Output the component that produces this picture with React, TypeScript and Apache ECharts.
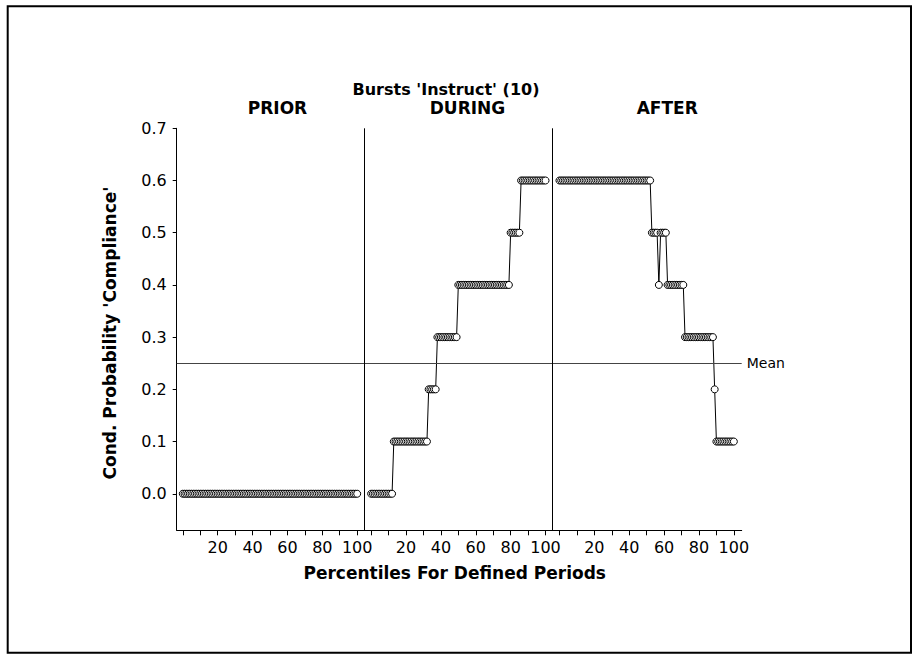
import { useEffect, useRef } from "react";
import * as echarts from "echarts";

const TITLE = "Bursts 'Instruct' (10)";
const PERIODS = ["PRIOR", "DURING", "AFTER"];
const Y_TITLE = "Cond. Probability 'Compliance'";
const X_TITLE = "Percentiles For Defined Periods";
const MEAN_LABEL = "Mean";

// conditional probability by percentile (0..100) in each period
const PRIOR_VALUES = [
  0, 0, 0, 0, 0, 0, 0, 0, 0, 0,
  0, 0, 0, 0, 0, 0, 0, 0, 0, 0,
  0, 0, 0, 0, 0, 0, 0, 0, 0, 0,
  0, 0, 0, 0, 0, 0, 0, 0, 0, 0,
  0, 0, 0, 0, 0, 0, 0, 0, 0, 0,
  0, 0, 0, 0, 0, 0, 0, 0, 0, 0,
  0, 0, 0, 0, 0, 0, 0, 0, 0, 0,
  0, 0, 0, 0, 0, 0, 0, 0, 0, 0,
  0, 0, 0, 0, 0, 0, 0, 0, 0, 0,
  0, 0, 0, 0, 0, 0, 0, 0, 0, 0,
  0,
];

const DURING_VALUES = [
  0, 0, 0, 0, 0, 0, 0, 0, 0, 0,
  0, 0, 0, 0.1, 0.1, 0.1, 0.1, 0.1, 0.1, 0.1,
  0.1, 0.1, 0.1, 0.1, 0.1, 0.1, 0.1, 0.1, 0.1, 0.1,
  0.1, 0.1, 0.1, 0.2, 0.2, 0.2, 0.2, 0.2, 0.3, 0.3,
  0.3, 0.3, 0.3, 0.3, 0.3, 0.3, 0.3, 0.3, 0.3, 0.3,
  0.4, 0.4, 0.4, 0.4, 0.4, 0.4, 0.4, 0.4, 0.4, 0.4,
  0.4, 0.4, 0.4, 0.4, 0.4, 0.4, 0.4, 0.4, 0.4, 0.4,
  0.4, 0.4, 0.4, 0.4, 0.4, 0.4, 0.4, 0.4, 0.4, 0.4,
  0.5, 0.5, 0.5, 0.5, 0.5, 0.5, 0.6, 0.6, 0.6, 0.6,
  0.6, 0.6, 0.6, 0.6, 0.6, 0.6, 0.6, 0.6, 0.6, 0.6,
  0.6,
];

const AFTER_VALUES = [
  0.6, 0.6, 0.6, 0.6, 0.6, 0.6, 0.6, 0.6, 0.6, 0.6,
  0.6, 0.6, 0.6, 0.6, 0.6, 0.6, 0.6, 0.6, 0.6, 0.6,
  0.6, 0.6, 0.6, 0.6, 0.6, 0.6, 0.6, 0.6, 0.6, 0.6,
  0.6, 0.6, 0.6, 0.6, 0.6, 0.6, 0.6, 0.6, 0.6, 0.6,
  0.6, 0.6, 0.6, 0.6, 0.6, 0.6, 0.6, 0.6, 0.6, 0.6,
  0.6, 0.6, 0.6, 0.5, 0.5, 0.5, 0.5, 0.4, 0.5, 0.5,
  0.5, 0.5, 0.4, 0.4, 0.4, 0.4, 0.4, 0.4, 0.4, 0.4,
  0.4, 0.4, 0.3, 0.3, 0.3, 0.3, 0.3, 0.3, 0.3, 0.3,
  0.3, 0.3, 0.3, 0.3, 0.3, 0.3, 0.3, 0.3, 0.3, 0.2,
  0.1, 0.1, 0.1, 0.1, 0.1, 0.1, 0.1, 0.1, 0.1, 0.1,
  0.1,
];

const X_MINOR_TICKS = [0, 10, 20, 30, 40, 50, 60, 70, 80, 90, 100];
const X_TICK_LABELS = [20, 40, 60, 80, 100];
const Y_TICKS = [0, 0.1, 0.2, 0.3, 0.4, 0.5, 0.6, 0.7];

const PANEL_SPAN = 108; // axis units per period panel
const SEPARATOR_POS = 104; // panel border within each panel

const FONT = "DejaVu Sans";

export default function App() {
  const ref = useRef<HTMLDivElement>(null);

  useEffect(() => {
    if (!ref.current) return;
    const chart = echarts.init(ref.current, null, { renderer: "svg" });

    const panels = [PRIOR_VALUES, DURING_VALUES, AFTER_VALUES];
    const all = panels.flat();
    const mean = all.reduce((a, b) => a + b, 0) / all.length;

    const offsets = panels.map((_, p) => p * PANEL_SPAN);
    const tickValues = offsets.flatMap((o) => X_MINOR_TICKS.map((t) => o + t));
    const labelValues = offsets.flatMap((o) => X_TICK_LABELS.map((t) => o + t));

    const series: any[] = panels.map((vals, p) => ({
      type: "line",
      name: PERIODS[p],
      data: vals.map((v, i) => [offsets[p] + i, v]),
      symbol: "circle",
      symbolSize: 7,
      showSymbol: true,
      showAllSymbol: true,
      itemStyle: { color: "#fff", borderColor: "#000", borderWidth: 1 },
      lineStyle: { color: "#000", width: 1 },
      emphasis: { disabled: true },
      silent: true,
      z: 3,
    }));

    series.push({
      type: "line",
      data: [],
      silent: true,
      z: 2,
      markLine: {
        silent: true,
        symbol: ["none", "none"],
        animation: false,
        data: [
          {
            yAxis: mean,
            lineStyle: { color: "#444", width: 1, type: "solid" },
            label: {
              show: true,
              position: "end",
              formatter: MEAN_LABEL,
              color: "#000",
              fontFamily: FONT,
              fontSize: 14,
              distance: 5,
            },
          },
          ...offsets.slice(0, 2).map((o) => ({
            xAxis: o + SEPARATOR_POS,
            lineStyle: { color: "#000", width: 1, type: "solid" },
            label: { show: false },
          })),
        ],
      },
    });

    const boldText = (text: string, x: number, y: number, size: number, rotation = 0) => ({
      type: "text",
      x,
      y,
      rotation,
      silent: true,
      style: {
        text,
        fill: "#000",
        fontFamily: FONT,
        fontWeight: "bold",
        fontSize: size,
        textAlign: "center",
        textVerticalAlign: "middle",
      },
    });

    chart.setOption({
      animation: false,
      backgroundColor: "#fff",
      grid: { left: 176.7, top: 128.3, width: 565, height: 402 },
      xAxis: {
        type: "value",
        min: -3.5,
        max: 320.5,
        splitLine: { show: false },
        axisLine: { show: true, onZero: false, lineStyle: { color: "#000", width: 1 } },
        axisTick: {
          show: true,
          inside: false,
          length: 5,
          customValues: tickValues,
          lineStyle: { color: "#000", width: 1 },
        },
        axisLabel: {
          show: true,
          customValues: labelValues,
          formatter: (v: number) => String(Math.round(v % PANEL_SPAN)),
          color: "#000",
          fontFamily: FONT,
          fontSize: 16,
          margin: 9,
        },
      },
      yAxis: {
        type: "value",
        min: -0.07,
        max: 0.7,
        splitLine: { show: false },
        axisLine: { show: true, onZero: false, lineStyle: { color: "#000", width: 1 } },
        axisTick: {
          show: true,
          inside: false,
          length: 4,
          customValues: Y_TICKS,
          lineStyle: { color: "#000", width: 1 },
        },
        axisLabel: {
          show: true,
          customValues: Y_TICKS,
          formatter: (v: number) => v.toFixed(1),
          color: "#000",
          fontFamily: FONT,
          fontSize: 16,
          margin: 10,
        },
      },
      graphic: [
        {
          type: "rect",
          silent: true,
          shape: { x: 7.7, y: 6.3, width: 903.3, height: 646.4 },
          style: { fill: "none", stroke: "#000", lineWidth: 2 },
        },
        boldText(TITLE, 446, 89.5, 16),
        boldText(PERIODS[0], 277.5, 108, 17),
        boldText(PERIODS[1], 467.5, 108, 17),
        boldText(PERIODS[2], 667.2, 108, 17),
        boldText(Y_TITLE, 110, 333, 17, Math.PI / 2),
        boldText(X_TITLE, 454.7, 572.5, 17),
      ],
      series,
    });

    return () => chart.dispose();
  }, []);

  return (
    <div
      ref={ref}
      style={{ position: "fixed", left: 0, top: 0, width: 915, height: 654, background: "#fff" }}
    />
  );
}
